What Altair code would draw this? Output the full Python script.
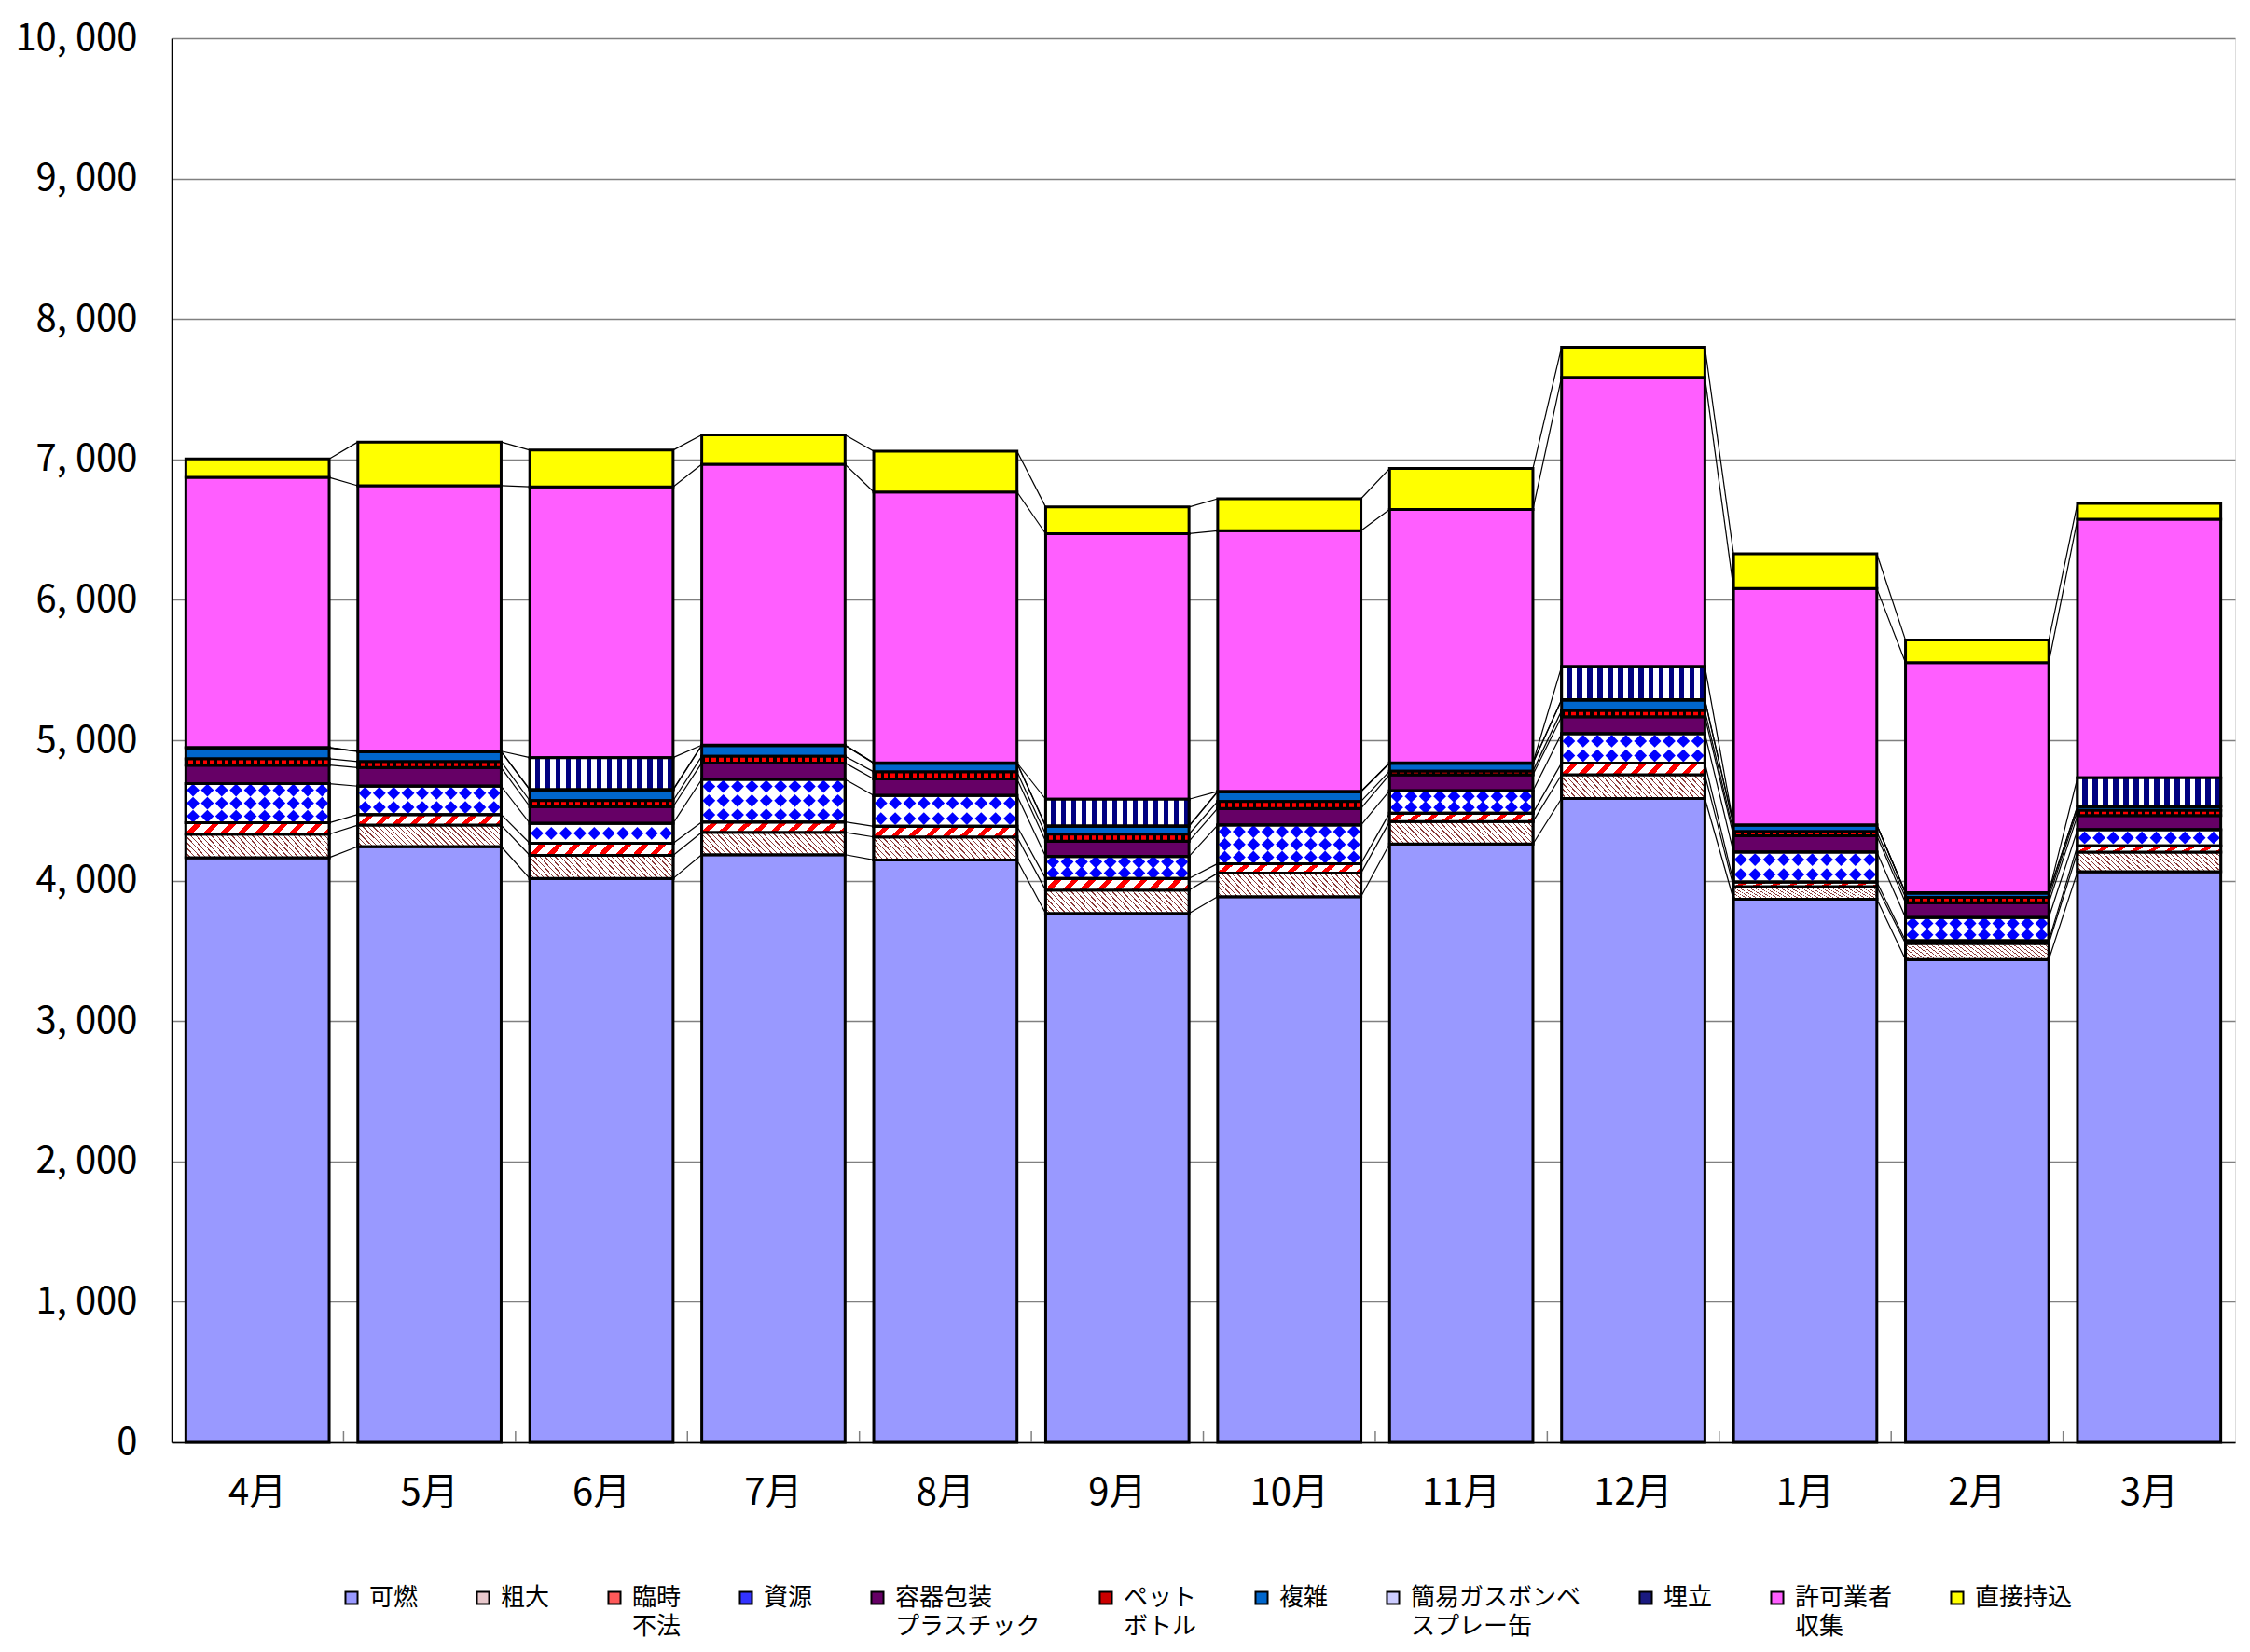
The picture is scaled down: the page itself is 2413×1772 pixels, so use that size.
import altair as alt
import pandas as pd

FONT = "Noto Sans CJK JP"

months = ["4月", "5月", "6月", "7月", "8月", "9月", "10月", "11月", "12月", "1月", "2月", "3月"]
series = ["可燃", "粗大", "臨時|不法", "資源", "容器包装|プラスチック", "ペット|ボトル",
          "複雑", "簡易ガスボンベ|スプレー缶", "埋立", "許可業者|収集", "直接持込"]

kanen = [4164, 4243, 4015, 4185, 4147, 3767, 3886, 4261, 4585, 3868, 3438, 4063]
sodai = [167, 152, 165, 159, 164, 165, 167, 159, 169, 89, 114, 140]
rinji = [81, 76, 86, 74, 76, 83, 68, 61, 84, 33, 20, 45]
shigen = [279, 202, 142, 303, 220, 157, 274, 159, 208, 213, 165, 114]
yoki = [132, 132, 119, 117, 117, 109, 119, 115, 121, 116, 106, 101]
pet = [45, 43, 43, 48, 51, 50, 50, 25, 43, 30, 38, 38]
fukuzatsu = [77, 71, 76, 76, 61, 56, 69, 56, 76, 46, 30, 26]
gas = [3, 3, 3, 3, 3, 3, 3, 3, 3, 3, 3, 3]
umetate = [0, 0, 227, 0, 0, 190, 0, 0, 235, 0, 0, 202]
kyoka = [1924, 1891, 1929, 2000, 1929, 1891, 1856, 1805, 2061, 1682, 1639, 1841]
chokusetsu = [132, 311, 261, 210, 291, 190, 228, 291, 214, 248, 160, 114]

values = [kanen, sodai, rinji, shigen, yoki, pet, fukuzatsu, gas, umetate, kyoka, chokusetsu]

legend_colors = ["#9999FF", "#E8C8CC", "#FF5A5A", "#3333FF", "#660066", "#CC0000",
                 "#0066CC", "#CCCCFF", "#1A1A80", "#FF5EFF", "#FFFF00"]

# stacked positions
rows = []
tops = {}
for i, m in enumerate(months):
    base = 0
    for k, s in enumerate(series):
        v = values[k][i]
        rows.append(dict(month=m, series=s, order=k, y0=base, y1=base + v))
        base += v
        tops[(i, k)] = base
df = pd.DataFrame(rows)

# series lines between neighbouring bars
lrows = []
for i in range(len(months) - 1):
    for k in range(len(series)):
        lrows.append(dict(ma=months[i], mb=months[i + 1], ya=tops[(i, k)], yb=tops[(i + 1, k)]))
ldf = pd.DataFrame(lrows)

# diamond pattern rows for 資源
PX_PER_UNIT = 1506 / 10000
PITCH = 15.5
N_COLS = 10
prow = []
k_sh = series.index("資源")
for i, m in enumerate(months):
    b = tops[(i, k_sh)] - shigen[i]
    t = tops[(i, k_sh)]
    n = max(1, round((t - b) * PX_PER_UNIT / PITCH))
    for j in range(n):
        prow.append(dict(month=m, y=b + (j + 0.5) * (t - b) / n))
pdf = pd.DataFrame(prow)

tick_df = pd.DataFrame({"month": months[:-1]})

xscale = alt.Scale(domain=months, paddingInner=0.1667, paddingOuter=0.0833)
yscale = alt.Scale(domain=[0, 10000], nice=False)

X = alt.X("month:N", scale=xscale, sort=months,
          axis=alt.Axis(title=None, labelAngle=0, labelFont=FONT, labelFontSize=40,
                        labelColor="black", labelPadding=34, ticks=False, tickSize=0,
                        domainColor="black", domainWidth=1.5))
Y = alt.Y("y1:Q", scale=yscale,
          axis=alt.Axis(title=None, values=list(range(0, 10001, 1000)),
                        labelExpr="replace(format(datum.value, ','), ',', ', ')",
                        labelFont=FONT, labelFontSize=40, labelColor="black",
                        labelPadding=37, ticks=False, tickSize=0,
                        domainColor="black", domainWidth=1.5,
                        gridColor="#808080", gridWidth=1.5,
                        minExtent=171, maxExtent=171))
Y2 = alt.Y2("y0:Q")


def stripes(c_line, c_bg, n, frac, x1, y1, x2, y2):
    stops = []
    for i in range(n):
        a = i / n
        b = (i + frac) / n
        c = (i + 1) / n
        stops += [alt.GradientStop(color=c_bg, offset=a),
                  alt.GradientStop(color=c_bg, offset=b),
                  alt.GradientStop(color=c_line, offset=b),
                  alt.GradientStop(color=c_line, offset=c)]
    return alt.LinearGradient(gradient="linear", stops=stops, x1=x1, y1=y1, x2=x2, y2=y2)


label_expr = ("indexof(datum.label, '|') >= 0 ? "
              "split(datum.label, '|') : [datum.label, ' ']")

main = alt.Chart(df).mark_bar(stroke="black", strokeWidth=3).encode(
    x=X, y=Y, y2=Y2,
    color=alt.Color("series:N", scale=alt.Scale(domain=series, range=legend_colors),
                    legend=alt.Legend(title=None, orient="none", legendX=180, legendY=1660,
                                      direction="horizontal", columns=11,
                                      symbolType="square", symbolSize=170,
                                      symbolStrokeColor="black", symbolStrokeWidth=2,
                                      labelFont=FONT, labelFontSize=26, labelColor="black",
                                      labelOffset=6, columnPadding=56, labelLimit=400,
                                      labelExpr=label_expr)),
)


def pattern_layer(name, grad):
    return alt.Chart(df).transform_filter(
        (alt.datum.series == name) & (alt.datum.y1 > alt.datum.y0)
    ).mark_bar(fill=grad, stroke="black", strokeWidth=3).encode(x=X, y=Y, y2=Y2)


# "\" hatch (gradient spans the whole box)
r1 = 0.15
s1 = (1 + r1) / (1 + r1 * r1)
g_sodai = stripes("#8B3A3A", "#FFFFFF", 32, 0.76, 0, 1, s1, 1 - s1 * r1)
# "/" hatch
r2 = 0.08
s2 = (1 + r2) / (1 + r2 * r2)
g_rinji = stripes("#FF0000", "#FFFFFF", 9, 0.6, 0, 0, s2, s2 * r2)
g_ume = stripes("#000080", "#FFFFFF", 14, 0.5, 0, 0, 1, 0)
g_pet = stripes("#FF0000", "#000000", 20, 0.4, 0, 0, 1, 0)

l_sodai = pattern_layer("粗大", g_sodai)
l_rinji = pattern_layer("臨時|不法", g_rinji)
l_ume = pattern_layer("埋立", g_ume)
l_pet = pattern_layer("ペット|ボトル", g_pet)

l_shigen = alt.Chart(df).transform_filter(alt.datum.series == "資源").mark_bar(
    fill="white", stroke="black", strokeWidth=3).encode(x=X, y=Y, y2=Y2)

dia_layers = []
for c in range(N_COLS):
    dia_layers.append(
        alt.Chart(pdf).mark_point(shape="diamond", filled=True, color="#0000FF",
                                  size=190, opacity=1).encode(
            x=alt.X("month:N", scale=xscale, sort=months, bandPosition=(c + 0.5) / N_COLS),
            y=alt.Y("y:Q", scale=yscale),
        )
    )

l_shigen_edge = alt.Chart(df).transform_filter(alt.datum.series == "資源").mark_bar(
    fillOpacity=0, stroke="black", strokeWidth=3).encode(x=X, y=Y, y2=Y2)

lines = alt.Chart(ldf).mark_rule(color="black", strokeWidth=1.2).encode(
    x=alt.X("ma:N", scale=xscale, sort=months, bandPosition=1),
    x2=alt.X2("mb:N", bandPosition=0),
    y=alt.Y("ya:Q", scale=yscale),
    y2=alt.Y2("yb:Q"),
)

# small inside tick marks between the category bands
cat_ticks = alt.Chart(tick_df).mark_rule(color="#808080", strokeWidth=1.5, xOffset=15.4).encode(
    x=alt.X("month:N", scale=xscale, sort=months, bandPosition=1),
    y=alt.value(1506),
    y2=alt.value(1494),
)

chart = alt.layer(
    main, l_sodai, l_rinji, l_shigen, *dia_layers, l_shigen_edge, l_pet, l_ume, lines, cat_ticks
).properties(
    width=2213, height=1506,
    padding={"left": 5, "top": 13, "right": 5, "bottom": 4},
).configure_view(
    stroke="#707070", strokeWidth=1.5
).configure(
    background="white",
    style={"guide-label": {"lineHeight": 31}},
)

chart.save("out.html", embed_options={"renderer": "svg", "actions": False})
